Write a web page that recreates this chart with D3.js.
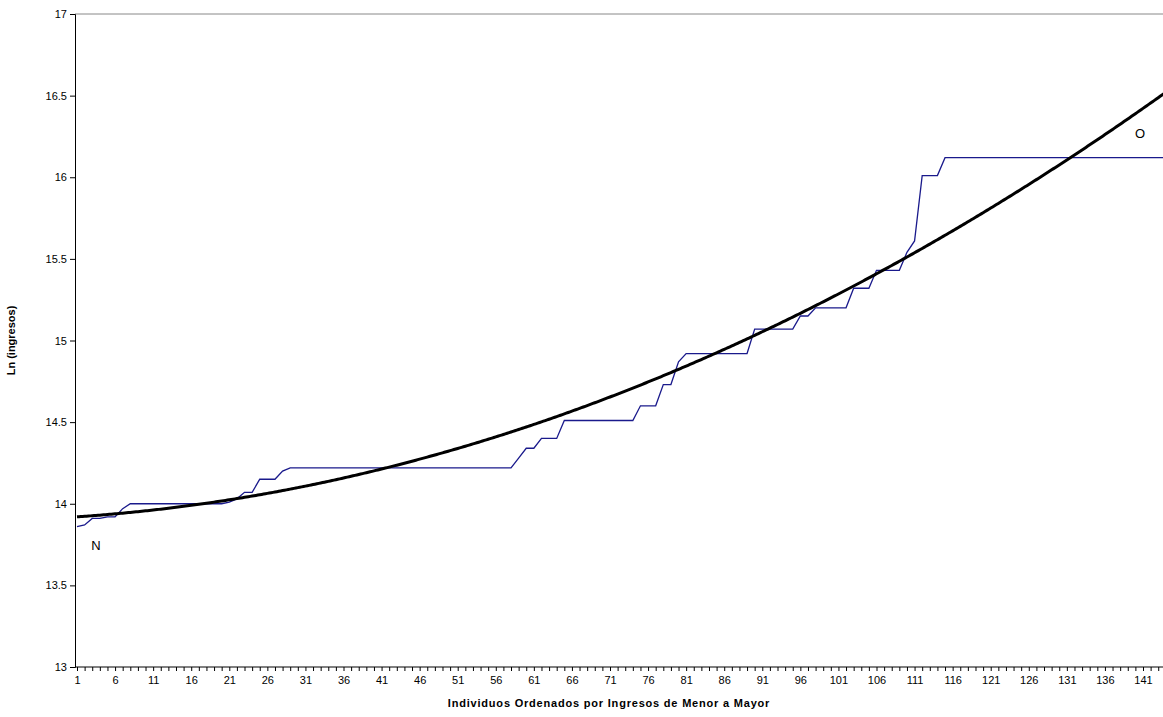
<!DOCTYPE html>
<html><head><meta charset="utf-8">
<script src="https://cdn.jsdelivr.net/npm/d3@7"></script>
<style>body{margin:0;background:#fff}text{font-family:"Liberation Sans",Arial,sans-serif}</style>
</head><body>
<script>
var ingresos = [13.86,13.87,13.91,13.91,13.92,13.92,13.97,
  14.0,14.0,14.0,14.0,14.0,14.0,14.0,14.0,14.0,14.0,14.0,14.0,14.0,
  14.01,14.03,14.07,14.07,14.15,14.15,14.15,14.2,
  14.22,14.22,14.22,14.22,14.22,14.22,14.22,14.22,14.22,14.22,14.22,14.22,14.22,14.22,14.22,
  14.22,14.22,14.22,14.22,14.22,14.22,14.22,14.22,14.22,14.22,14.22,14.22,14.22,14.22,14.22,
  14.28,14.34,14.34,14.4,14.4,14.4,
  14.51,14.51,14.51,14.51,14.51,14.51,14.51,14.51,14.51,14.51,
  14.6,14.6,14.6,14.73,14.73,14.87,
  14.92,14.92,14.92,14.92,14.92,14.92,14.92,14.92,14.92,
  15.07,15.07,15.07,15.07,15.07,15.07,15.15,15.15,
  15.2,15.2,15.2,15.2,15.2,15.32,15.32,15.32,
  15.43,15.43,15.43,15.43,15.54,15.61,16.01,16.01,16.01,
  16.12,16.12,16.12,16.12,16.12,16.12,16.12,16.12,16.12,16.12,16.12,16.12,16.12,16.12,
  16.12,16.12,16.12,16.12,16.12,16.12,16.12,16.12,16.12,16.12,16.12,16.12,16.12,16.12,16.12,16.12,16.12];
// quadratic trend coefficients (a + b*(i-1) + c*(i-1)^2)
var trendCoef = [13.92, 0.0031, 0.0001055];
var yTicks = [13,13.5,14,14.5,15,15.5,16,16.5,17];

var W = 1163, H = 717, m = {l:75, r:0, t:14, b:50};
var svg = d3.select('body').append('svg').attr('width', W).attr('height', H);
var n = ingresos.length;
var idx = d3.range(1, n + 1);
var x = d3.scaleLinear().domain([1, 141]).range([77, 1143]);
var y = d3.scaleLinear().domain([13, 17]).range([H - m.b, m.t]);

svg.append('clipPath').attr('id', 'clip').append('rect')
  .attr('x', m.l).attr('y', 0).attr('width', W - m.l).attr('height', H);

svg.append('line').attr('x1', m.l).attr('x2', W).attr('y1', m.t).attr('y2', m.t).attr('stroke', '#888');
var ya = svg.append('g').attr('transform', 'translate(' + m.l + ',0)')
  .call(d3.axisLeft(y).tickValues(yTicks).tickSize(5).tickFormat(d3.format('')));
ya.selectAll('text').attr('font-size', 11).attr('fill', '#000');
ya.selectAll('line,path').attr('stroke', '#000');

var xa = svg.append('g').attr('transform', 'translate(0,' + (H - m.b) + ')')
  .call(d3.axisBottom(x).tickValues(idx.filter(i => x(i) <= W)).tickSize(4).tickSizeOuter(0)
    .tickFormat(d => (d - 1) % 5 === 0 ? d : ''));
xa.select('path').attr('d', 'M' + m.l + ',0H' + W).attr('stroke', '#000');
xa.selectAll('line').attr('stroke', '#000');
xa.selectAll('text').attr('font-size', 11).attr('fill', '#000').attr('dy', '0.9em');

var g = svg.append('g').attr('clip-path', 'url(#clip)');
g.append('path').datum(idx)
  .attr('fill', 'none').attr('stroke', '#1a1a8c').attr('stroke-width', 1.3)
  .attr('d', d3.line().x(i => x(i)).y(i => y(ingresos[i - 1])));

var trend = d3.range(1, n + 0.01, 0.25);
g.append('path').datum(trend)
  .attr('fill', 'none').attr('stroke', '#000').attr('stroke-width', 3)
  .attr('d', d3.line().x(i => x(i)).y(i => y(trendCoef[0] + trendCoef[1] * (i - 1) + trendCoef[2] * (i - 1) * (i - 1))));

svg.append('text').attr('x', 96).attr('y', 550).attr('text-anchor', 'middle').attr('font-size', 13).text('N');
svg.append('text').attr('x', 1140).attr('y', 138).attr('text-anchor', 'middle').attr('font-size', 13).text('O');

svg.append('text').attr('x', (m.l + W) / 2 - 10).attr('y', 707).attr('text-anchor', 'middle')
  .attr('font-size', 11).attr('font-weight', 'bold').attr('letter-spacing', '0.8px')
  .text('Individuos Ordenados por Ingresos de Menor a Mayor');
svg.append('text').attr('transform', 'translate(15,' + ((m.t + H - m.b) / 2) + ') rotate(-90)')
  .attr('text-anchor', 'middle').attr('font-size', 11).attr('font-weight', 'bold')
  .text('Ln (ingresos)');
</script>
</body></html>
